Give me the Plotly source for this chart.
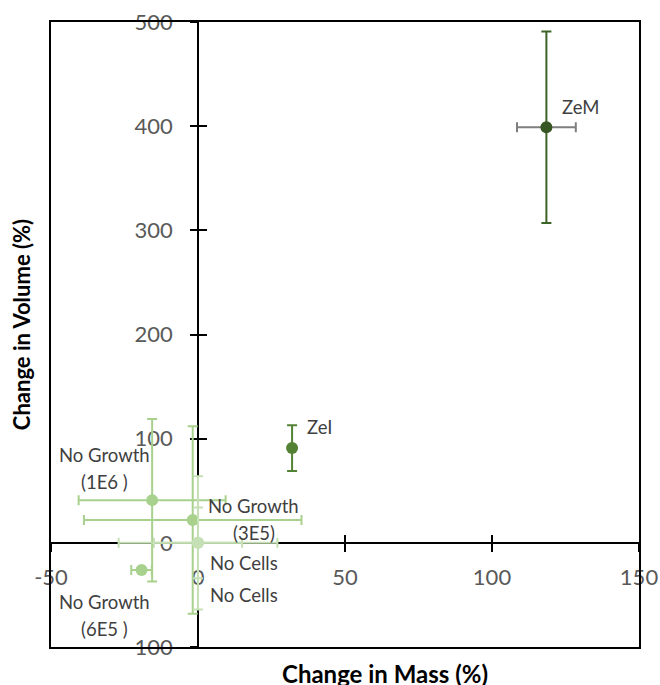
import plotly.graph_objects as go

# ---- data ----
labels = ["ZeM", "ZeI", "No Growth<br>(1E6 )", "No Growth<br>(3E5)", "No Growth<br>(6E5 )", "No Cells", "No Cells"]
mass_change = [118.5, 32.0, -15.6, -1.8, -19.2, 0.0, 0.0]
volume_change = [399.0, 91.0, 41.0, 22.0, -26.0, 0.0, 0.0]
mass_err = [10.0, 0.0, 25.0, 37.0, 3.5, 27.0, 15.0]
volume_err = [92.0, 22.0, 78.0, 90.0, 0.0, 64.0, 34.0]
x_ticks = [-50, 0, 50, 100, 150]
x_tick_labels = ["-50", "0", "50", "100", "150"]
y_ticks = [-100, 0, 100, 200, 300, 400, 500]
y_tick_labels = ["-100", "0", "100", "200", "300", "400", "500"]
x_title = "Change in Mass (%)"
y_title = "Change in Volume (%)"

# ---- styles ----
marker_colors = ["#375623", "#548235", "#A9D18E", "#A9D18E", "#A9D18E", "#C5E0B4", "#C5E0B4"]
xerr_colors = ["#7F7F7F", "#548235", "#A9D18E", "#A9D18E", "#A9D18E", "#C5E0B4", "#C5E0B4"]
yerr_colors = ["#3B6326", "#548235", "#A9D18E", "#A9D18E", "#A9D18E", "#C5E0B4", "#C5E0B4"]
# label offsets in pixels (dx, dy of first line centre), per point
label_offsets = [(34, 20), (27, 21), (-48, 45), (61, 14), (-37, -32), (46, -20), (46, -52)]
LINE_GAP = 27
FONT = "Lato"

fig = go.Figure()

for i in range(len(labels)):
    fig.add_trace(go.Scatter(
        x=[mass_change[i]], y=[volume_change[i]],
        mode="markers",
        marker=dict(color=marker_colors[i], size=12, line=dict(width=0)),
        error_x=dict(type="data", array=[mass_err[i]], visible=mass_err[i] > 0,
                     color=xerr_colors[i], thickness=2, width=5),
        error_y=dict(type="data", array=[volume_err[i]], visible=volume_err[i] > 0,
                     color=yerr_colors[i], thickness=2, width=5),
        showlegend=False, hoverinfo="skip",
    ))

# invisible traces so that overlay axes exist
for xa, ya in [("x2", "y2"), ("x3", "y3"), ("x4", "y4")]:
    fig.add_trace(go.Scatter(x=[None], y=[None], xaxis=xa, yaxis=ya,
                             showlegend=False, hoverinfo="skip"))

annotations = []
for i, lab in enumerate(labels):
    dx, dy = label_offsets[i]
    for j, line in enumerate(lab.split("<br>")):
        annotations.append(dict(
            x=mass_change[i], y=volume_change[i], xref="x", yref="y",
            text=line, showarrow=False, xanchor="center", yanchor="middle",
            xshift=dx, yshift=dy - j * LINE_GAP,
            font=dict(family=FONT, size=18.5, color="#404040"),
        ))

# axis titles
annotations.append(dict(x=0.568, y=0, xref="paper", yref="paper", yshift=-26,
                        text=x_title, showarrow=False, xanchor="center", yanchor="middle",
                        font=dict(family=FONT, size=24, color="black", weight="bold")))
annotations.append(dict(x=0, y=0.515, xref="paper", yref="paper", xshift=-30,
                        text=y_title, showarrow=False, textangle=-90,
                        xanchor="center", yanchor="middle",
                        font=dict(family=FONT, size=22, color="black", weight="bold")))

x_range = [-50, 150]
y_range = [-100, 500]
x0_frac = (0 - y_range[0]) / (y_range[1] - y_range[0])
y0_frac = (0 - x_range[0]) / (x_range[1] - x_range[0])

tickfont = dict(family=FONT, size=22, color="#595959")
common = dict(showgrid=False, zeroline=False, automargin=False, layer="below traces")

fig.update_layout(
    width=660, height=685,
    margin=dict(l=51, r=21, t=22, b=38),
    plot_bgcolor="white", paper_bgcolor="white",
    annotations=annotations,
    xaxis=dict(range=x_range, showline=True, mirror=True, linecolor="black", linewidth=1.5,
               showticklabels=False, ticks="", showgrid=False, zeroline=False, automargin=False),
    yaxis=dict(range=y_range, showline=True, mirror=True, linecolor="black", linewidth=1.5,
               showticklabels=False, ticks="", showgrid=False, zeroline=False, automargin=False),
    # axes through 0 carrying the labels (transparent ticks set the label distance)
    xaxis2=dict(range=x_range, overlaying="x", anchor="free", position=x0_frac,
                showline=True, linecolor="black", linewidth=1.5,
                tickvals=x_ticks, ticktext=x_tick_labels,
                ticks="outside", ticklen=15, tickcolor="rgba(0,0,0,0)",
                tickfont=tickfont, **common),
    yaxis2=dict(range=y_range, overlaying="y", anchor="free", position=y0_frac,
                showline=True, linecolor="black", linewidth=1.5,
                tickvals=y_ticks, ticktext=y_tick_labels,
                ticks="outside", ticklen=20, tickcolor="rgba(0,0,0,0)",
                tickfont=tickfont, **common),
    # visible crossing tick marks
    xaxis3=dict(range=x_range, overlaying="x", anchor="free", position=x0_frac, showline=False,
                tickvals=x_ticks, ticks="inside", ticklen=8, tickwidth=1.5, tickcolor="black",
                showticklabels=False, **common),
    yaxis3=dict(range=y_range, overlaying="y", anchor="free", position=y0_frac, showline=False,
                tickvals=y_ticks, ticks="inside", ticklen=8, tickwidth=1.5, tickcolor="black",
                showticklabels=False, **common),
    xaxis4=dict(range=x_range, overlaying="x", anchor="free", position=x0_frac, showline=False,
                tickvals=x_ticks, ticks="outside", ticklen=8, tickwidth=1.5, tickcolor="black",
                showticklabels=False, **common),
    yaxis4=dict(range=y_range, overlaying="y", anchor="free", position=y0_frac, showline=False,
                tickvals=y_ticks, ticks="outside", ticklen=8, tickwidth=1.5, tickcolor="black",
                showticklabels=False, **common),
)

fig.write_html("out.html", config={"displayModeBar": False},
               post_script="document.body.style.margin='0';")
